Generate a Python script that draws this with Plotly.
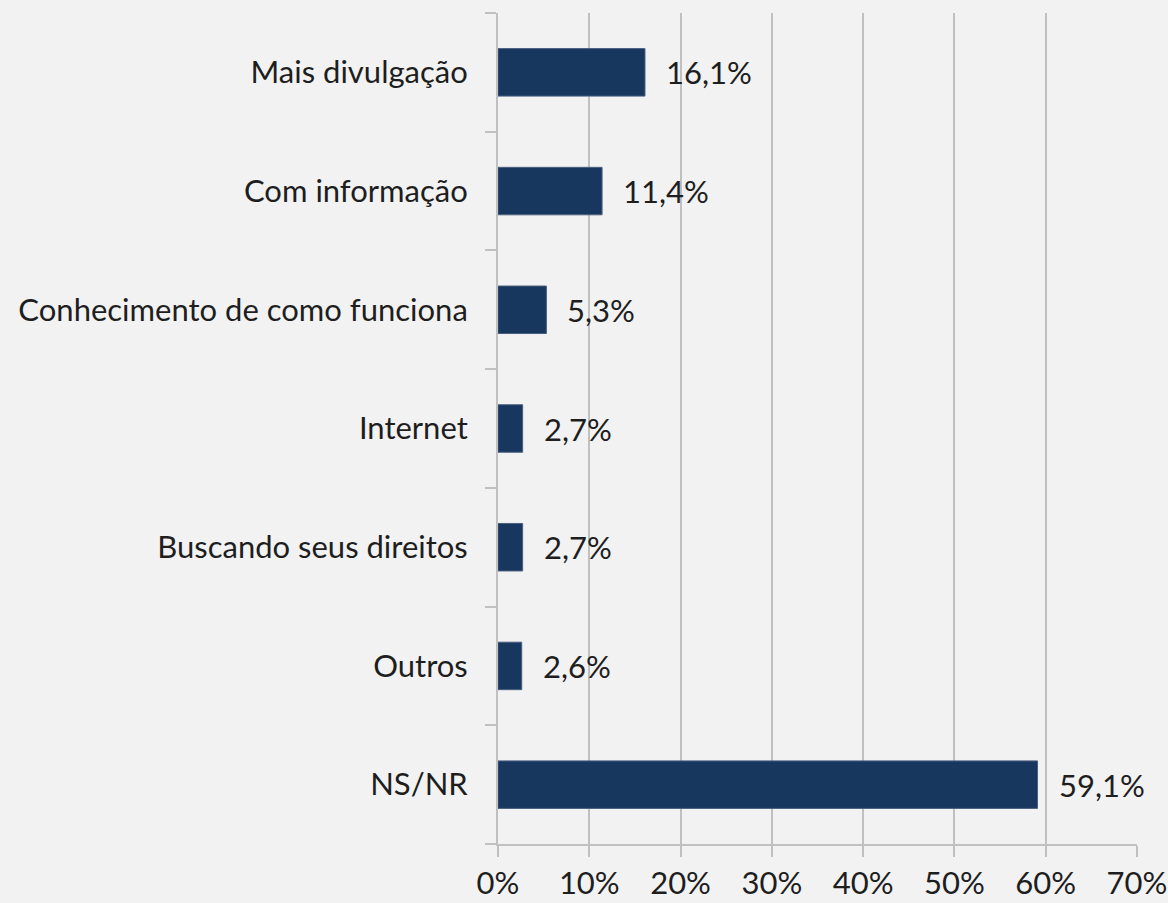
import plotly.graph_objects as go

categories = ["Mais divulgação", "Com informação", "Conhecimento de como funciona",
              "Internet", "Buscando seus direitos", "Outros", "NS/NR"]
values = [16.1, 11.4, 5.3, 2.7, 2.7, 2.6, 59.1]
labels = ["16,1%", "11,4%", "5,3%", "2,7%", "2,7%", "2,6%", "59,1%"]
tick_vals = [0, 10, 20, 30, 40, 50, 60, 70]
tick_text = ["0%", "10%", "20%", "30%", "40%", "50%", "60%", "70%"]

FONT = "Lato, 'Open Sans', sans-serif"
BG = "#f2f2f2"
GRID = "#c0c0c0"
TXT = "#1e1e1e"
FS = 31

fig = go.Figure()
fig.add_trace(go.Bar(
    y=categories, x=values, orientation="h",
    marker=dict(color="#17375e", line=dict(color="#4a5f7e", width=1)),
    width=0.4, hoverinfo="x+y",
))

for v, c, t in zip(values, categories, labels):
    fig.add_annotation(x=v, y=c, text=t, showarrow=False, xanchor="left",
                       xshift=19, font=dict(family=FONT, size=FS, color=TXT))

fig.update_layout(
    width=1168, height=903,
    paper_bgcolor=BG, plot_bgcolor=BG,
    margin=dict(l=498, r=31, t=13, b=59),
    showlegend=False,
)
fig.update_xaxes(
    range=[0, 70], tickvals=tick_vals, ticktext=tick_text,
    showgrid=True, gridcolor=GRID, gridwidth=2,
    ticks="outside", ticklen=11, tickcolor=GRID, tickwidth=2,
    showline=True, linecolor=GRID, linewidth=2,
    tickfont=dict(family=FONT, size=FS, color=TXT),
    zeroline=False, fixedrange=True, automargin=False,
)
fig.update_yaxes(
    categoryorder="array", categoryarray=categories[::-1],
    ticks="outside", ticklen=11, tickcolor=GRID, tickwidth=2, tickson="boundaries",
    showline=True, linecolor=GRID, linewidth=2,
    tickfont=dict(family=FONT, size=FS, color=TXT),
    ticklabelstandoff=22,
    showgrid=False, fixedrange=True, automargin=False,
)
fig.write_html(
    "out.html",
    config={"displayModeBar": False},
    post_script="document.body.style.margin='0';document.body.style.background='#f2f2f2';",
)
